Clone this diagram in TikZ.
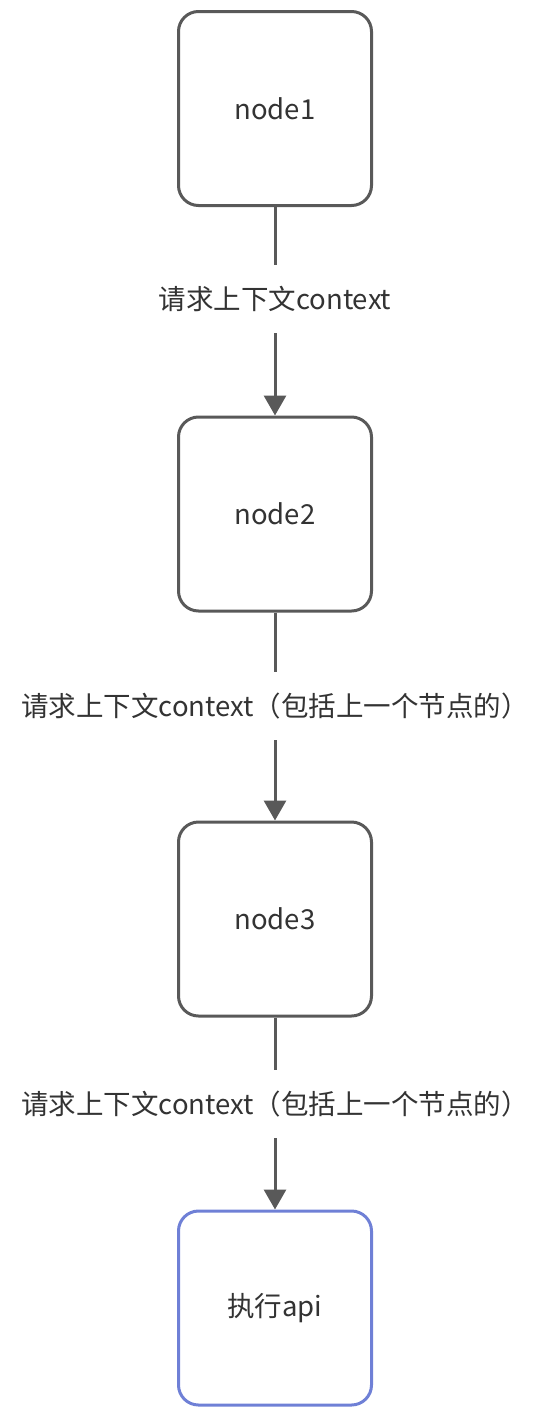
\documentclass[tikz,border=0pt]{standalone}
\usepackage{fontspec}
\setmainfont{Noto Sans CJK SC}
\usetikzlibrary{arrows.meta}
\definecolor{linegray}{HTML}{595959}
\definecolor{apiblue}{HTML}{6F80D6}
\definecolor{textdark}{HTML}{333333}
\begin{document}
\begin{tikzpicture}[x=1pt, y=-1pt, >={Triangle[width=22pt,length=20pt]}, font=\fontsize{27.5}{32}\selectfont]
      \tikzset{box/.style={draw=linegray, line width=3pt, rounded corners=20pt, minimum width=193pt, minimum height=194pt, text=textdark}}
      \tikzset{flow/.style={->, draw=linegray, line width=3pt}}
      \tikzset{lbl/.style={fill=white, text=textdark, inner xsep=2pt, inner ysep=0pt, minimum height=68pt}}
      \useasboundingbox (0,0) rectangle (550,1416);
      \node[box] (node1) at (275,108.5) {node1};
      \node[box] (node2) at (275,514) {node2};
      \node[box] (node3) at (275,919) {node3};
      \node[box, draw=apiblue] (api) at (275,1308) {执行api};
      \draw[flow] (node1) -- node[lbl, pos=0.44] {请求上下文context} (node2);
      \draw[flow] (node2) -- node[lbl, pos=0.45] {请求上下文context（包括上一个节点的）} (node3);
      \draw[flow] (node3) -- node[lbl, pos=0.45] {请求上下文context（包括上一个节点的）} (api);
    \end{tikzpicture}
\end{document}
